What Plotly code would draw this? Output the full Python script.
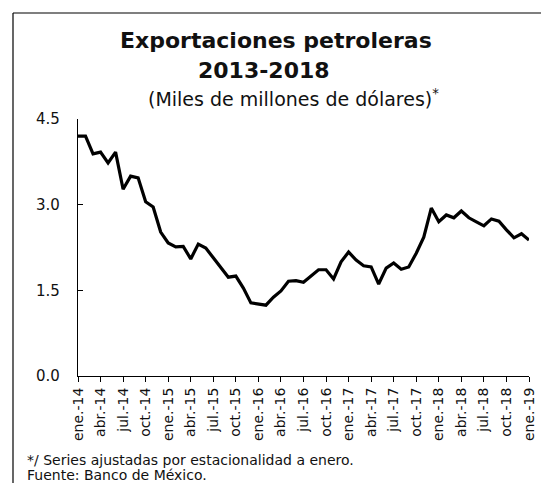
import plotly.graph_objects as go

months = ["ene.", "feb.", "mar.", "abr.", "may.", "jun.", "jul.", "ago.", "sep.", "oct.", "nov.", "dic."]
periods = [f"{months[i % 12]}-{14 + i // 12}" for i in range(61)]

values = [4.20, 4.20, 3.89, 3.92, 3.73, 3.92, 3.27, 3.50, 3.47, 3.05,
          2.96, 2.52, 2.33, 2.26, 2.27, 2.05, 2.31, 2.24, 2.07, 1.89,
          1.73, 1.75, 1.54, 1.28, 1.26, 1.24, 1.38, 1.49, 1.66, 1.67,
          1.64, 1.75, 1.86, 1.86, 1.70, 2.00, 2.17, 2.03, 1.93, 1.91,
          1.61, 1.89, 1.98, 1.87, 1.91, 2.15, 2.43, 2.94, 2.70, 2.82,
          2.77, 2.89, 2.77, 2.70, 2.63, 2.75, 2.71, 2.56, 2.42, 2.49,
          2.38]

tick_idx = list(range(0, 61, 3))
tick_labels = [periods[i] for i in tick_idx]
y_ticks = [0.0, 1.5, 3.0, 4.5]

FONT = "DejaVu Sans"
W, H = 541, 475          # page body adds an 8px margin
L, R, T, B = 70, 20, 111, 107
PW, PH = W - L - R, H - T - B


def px(x):
    return (x - L) / PW


def py(y):
    return (H - B - y) / PH


fig = go.Figure()
fig.add_trace(go.Scatter(
    x=list(range(len(values))), y=values, mode="lines",
    line=dict(color="black", width=3.2), hoverinfo="skip", showlegend=False))

fig.update_layout(
    width=W, height=H,
    margin=dict(l=L, r=R, t=T, b=B, autoexpand=False),
    paper_bgcolor="white", plot_bgcolor="white",
    font=dict(family=FONT, color="#111111"),
    xaxis=dict(range=[0, 60], tickmode="array", tickvals=tick_idx, ticktext=tick_labels,
               tickangle=-90, tickfont=dict(size=14, family=FONT, color="#111111"),
               showgrid=False, zeroline=False, showline=True, linecolor="black", linewidth=1.2,
               ticks="outside", ticklen=5, tickcolor="black", tickwidth=1),
    yaxis=dict(range=[0, 4.5], tickmode="array", tickvals=y_ticks, tickformat=".1f",
               tickfont=dict(size=15, family=FONT, color="#111111"), ticklabelstandoff=14,
               showgrid=False, zeroline=False, showline=True, linecolor="black", linewidth=1.2,
               ticks="inside", ticklen=5, tickcolor="black"),
)

fig.add_annotation(text="<b>Exportaciones petroleras</b>", xref="paper", yref="paper",
                   x=px(268), y=py(32), xanchor="center", yanchor="middle", showarrow=False,
                   font=dict(size=22, family=FONT, color="#111111"))
fig.add_annotation(text="<b>2013-2018</b>", xref="paper", yref="paper",
                   x=px(256), y=py(62), xanchor="center", yanchor="middle", showarrow=False,
                   font=dict(size=22, family=FONT, color="#111111"))
fig.add_annotation(text="(Miles de millones de dólares)<sup>*</sup>", xref="paper", yref="paper",
                   x=px(285), y=py(90), xanchor="center", yanchor="middle", showarrow=False,
                   font=dict(size=19, family=FONT, color="#111111"))
fig.add_annotation(text="*/ Series ajustadas por estacionalidad a enero.",
                   xref="paper", yref="paper", x=px(17), y=py(452),
                   xanchor="left", yanchor="middle", align="left", showarrow=False,
                   font=dict(size=14, family=FONT, color="#111111"))
fig.add_annotation(text="Fuente: Banco de México.",
                   xref="paper", yref="paper", x=px(17), y=py(467),
                   xanchor="left", yanchor="middle", align="left", showarrow=False,
                   font=dict(size=14, family=FONT, color="#111111"))

# page frame: top and left rules only
fig.add_shape(type="line", xref="paper", yref="paper",
              x0=px(5), x1=px(W + 5), y0=py(5), y1=py(5),
              line=dict(color="black", width=1.2))
fig.add_shape(type="line", xref="paper", yref="paper",
              x0=px(5), x1=px(5), y0=py(5), y1=py(H + 10),
              line=dict(color="black", width=1.2))

fig.write_html("out.html")
